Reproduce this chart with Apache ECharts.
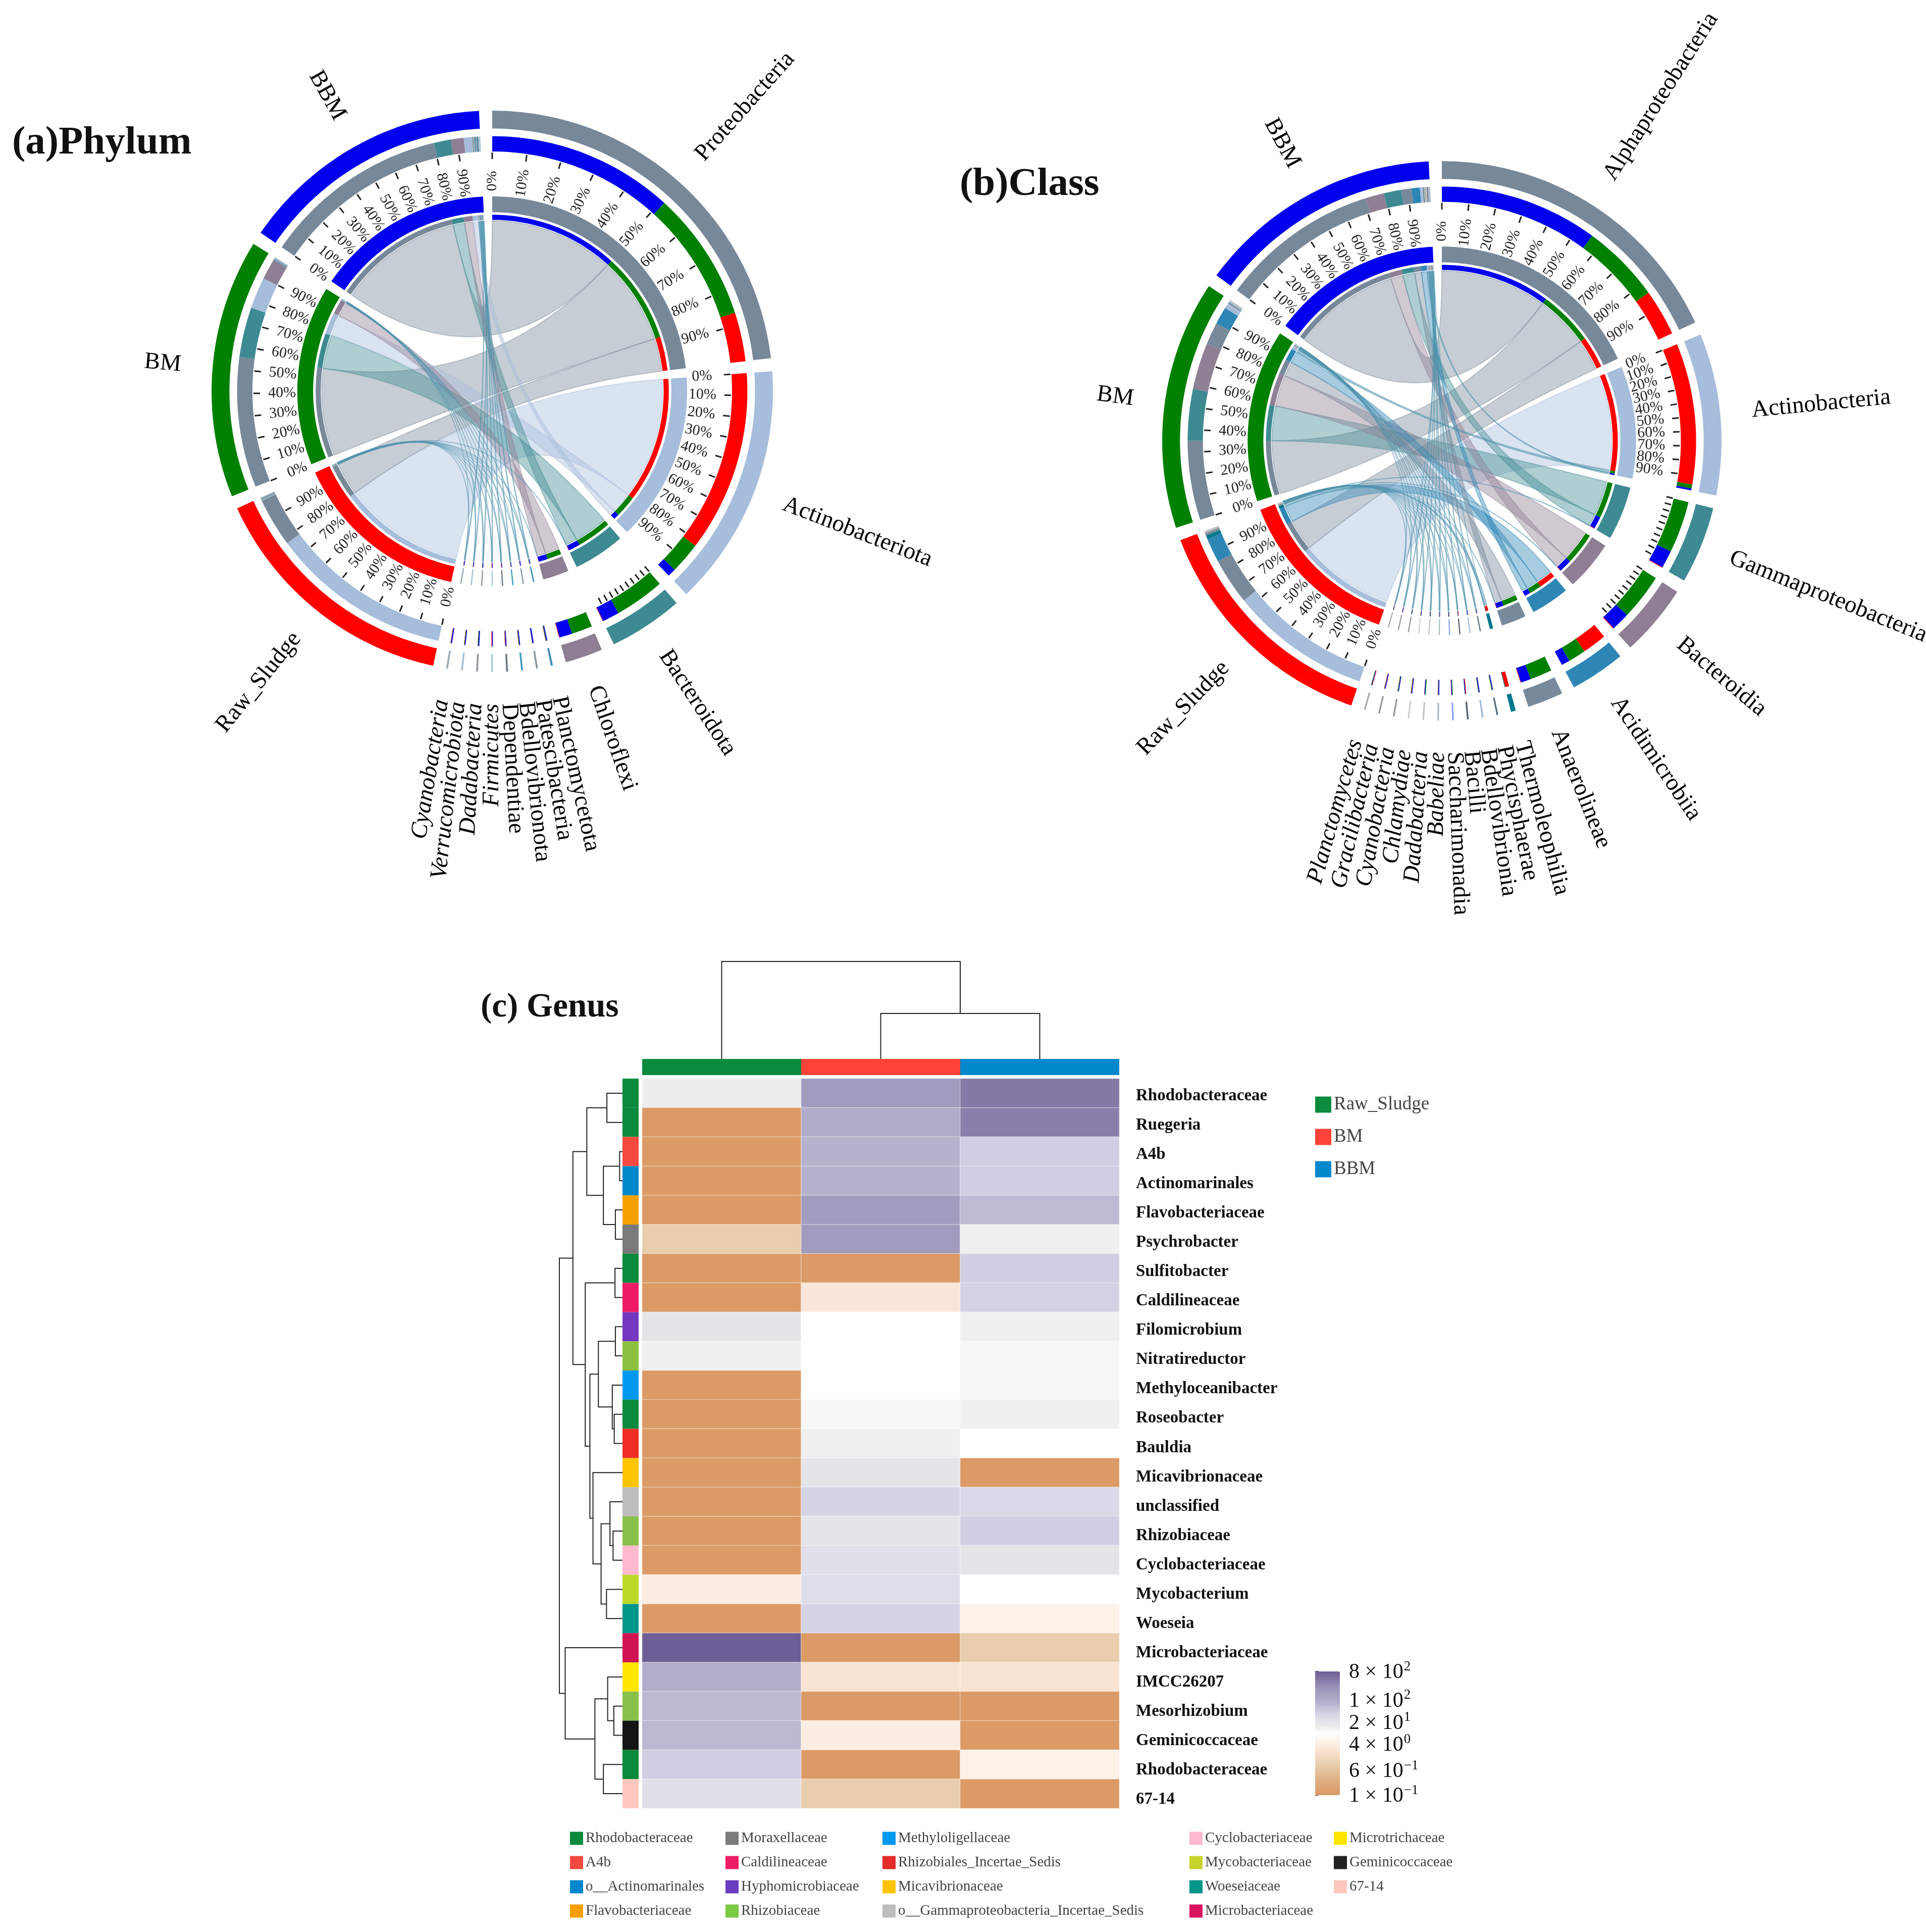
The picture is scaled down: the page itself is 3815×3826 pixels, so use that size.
<!DOCTYPE html>
<html><head><meta charset="utf-8">
<style>html,body{margin:0;padding:0;background:#fff}#c{width:3815px;height:3826px}</style>
<script src="https://cdn.jsdelivr.net/npm/echarts@6/dist/echarts.min.js"></script>
</head><body><div id="c"></div>
<script>
// ---------- panel (a) Phylum ----------
const phylumNames=['Proteobacteria','Actinobacteriota','Bacteroidota','Chloroflexi','Planctomycetota','Patescibacteria','Bdellovibrionota','Dependentiae','Firmicutes','Dadabacteria','Verrucomicrobiota','Cyanobacteria'];
const phylumRaw=[21,78,0.2,0.2,0.1,0.05,0.1,0.2,0.25,0.05,0.1,0.15];
const phylumBM=[56,13.5,21.5,9,0.25,0.1,0.2,0.1,0.05,0.25,0.2,0.05];
const phylumBBM=[80,3.5,7.3,5.5,0.45,0.55,0.4,0.4,0.4,0.45,0.4,0.5];
const phylumColors=['#778899','#A6BDDB','#3D8A92','#8E7F94','#3E8FB5','#8A98A0','#3E9AB8','#6B7680','#A8CDD8','#9A9AA5','#A6C0D5','#9BA8B0'];
// ---------- panel (b) Class ----------
const classNames=['Alphaproteobacteria','Actinobacteria','Gammaproteobacteria','Bacteroidia','Acidimicrobiia','Anaerolineae','Thermoleophilia','Phycisphaerae','Bdellovibrionia','Bacilli','Saccharimonadia','Babeliae','Dadabacteria','Chlamydiae','Cyanobacteria','Gracilibacteria','Planctomycetes'];
const classRaw=[21,64,0.3,0.3,11,0.2,1.7,0.05,0.05,0.3,0.1,0.1,0.05,0.15,0.1,0.2,0.25];
const classBM=[36,1.8,23.5,21,8,10,0.2,0.25,0.2,0.1,0.3,0.2,0.35,0.2,0.25,0.1,0.2];
const classBBM=[72,0.9,8,8.4,3.8,4.6,0.1,0.4,0.45,0.3,0.3,0.4,0.3,0.35,0.35,0.4,0.25];
const classColors=['#778899','#A6BDDB','#3D8A92','#8E7F94','#2E86B5','#78899B','#00788C','#5D6D7D','#A3BBD8','#555F68','#8EA0F0','#A9BFBF','#C5C5C5','#D0D0D0','#999999','#999999','#AAAAAA'];
const sampleNames=['Raw_Sludge','BM','BBM'];
const sampleChordColors=['#FF0000','#008000','#0000EE'];
const percentTicks=[0,10,20,30,40,50,60,70,80,90];
// ---------- panel (c) Genus ----------
const genusNames=['Rhodobacteraceae','Ruegeria','A4b','Actinomarinales','Flavobacteriaceae','Psychrobacter','Sulfitobacter','Caldilineaceae','Filomicrobium','Nitratireductor','Methyloceanibacter','Roseobacter','Bauldia','Micavibrionaceae','unclassified','Rhizobiaceae','Cyclobacteriaceae','Mycobacterium','Woeseia','Microbacteriaceae','IMCC26207','Mesorhizobium','Geminicoccaceae','Rhodobacteraceae ','67-14'];
const genusRaw=[14,0.1,0.1,0.1,0.1,0.9,0.1,0.1,18,13,0.1,0.1,0.1,0.1,0.1,0.1,0.1,4,0.1,800,90,70,70,42,24];
const genusBM=[180,100,80,80,170,180,0.1,3,9,9,9,11,13,18,36,18,24,26,36,0.1,2.5,0.1,4,0.1,0.9];
const genusBBM=[450,390,42,42,65,13,42,38,13,11,11,13,9,0.1,30,42,19,9,5,0.9,2.5,0.1,0.1,5,0.1];
const genusRowColors=['#0A8A3C','#0A8A3C','#F44A3E','#0088CC','#F7A000','#7A7A7A','#0A8A3C','#EE1C66','#7438C0','#8CC040','#0099F0','#0A8A3C','#EE2E24','#FFC400','#BDBDBD','#88C04A','#FFB9CE','#B9D82A','#009688','#D0144F','#FFE600','#88C04A','#141414','#0A8A3C','#FFC8BE'];
const heatColumns=['Raw_Sludge','BM','BBM'];
const heatColumnColors=['#0A8A3C','#FF4238','#0088CC'];
const heatStops=['#DB9A66','#DDA474','#E0B084','#E4BF98','#E8CFAF','#F2DAC3','#FBE6D8','#FDF2E9','#FFFFFF','#E8E8E8','#DDDCEA','#CCC9DF','#B4AFCB','#A5A0C0','#9A92B8','#8478A6','#6C5F96'];
const colorbarTicks=[0.1,0.6,4,20,100,800];
const colorbarMantissa=['1','6','4','2','1','8'];
const colorbarExponent=['−1','−1','0','1','2','2'];
// merges: [child a, child b, height]; child index >= 25 means merge (index-25)
const rowMerges=[[0,1,43],[2,3,10],[4,5,21],[26,27,52],[25,28,95],[6,7,22],[8,9,21],[11,12,24],[10,32,29],[31,33,65],[15,16,27],[14,35,35],[17,18,44],[36,37,58],[13,38,79],[34,39,87],[30,40,99],[29,41,131],[21,22,25],[20,43,41],[23,24,52],[44,45,74],[19,46,151],[42,47,166]];
const colMerges=[[1,2,90],[0,3,193]];
const legendCol1=['Rhodobacteraceae','A4b','o__Actinomarinales','Flavobacteriaceae'];
const legendCol2=['Moraxellaceae','Caldilineaceae','Hyphomicrobiaceae','Rhizobiaceae'];
const legendCol3=['Methyloligellaceae','Rhizobiales_Incertae_Sedis','Micavibrionaceae','o__Gammaproteobacteria_Incertae_Sedis'];
const legendCol4=['Cyclobacteriaceae','Mycobacteriaceae','Woeseiaceae','Microbacteriaceae'];
const legendCol5=['Microtrichaceae','Geminicoccaceae','67-14'];
const legendCol1Colors=['#0A8A3C','#F44A3E','#0088CC','#F7A000'];
const legendCol2Colors=['#7A7A7A','#EE1C66','#6A3CC0','#7AC943'];
const legendCol3Colors=['#0099F0','#E22A28','#FFC400','#BDBDBD'];
const legendCol4Colors=['#FFB9CE','#C5D42A','#009688','#D8145F'];
const legendCol5Colors=['#FFE600','#222222','#FFC8BE'];

// ---------- helpers ----------
const SERIF='Liberation Serif';
const GAP=2.7, R_OUT=[515,550], R_COMP=[470,500], R_IN=[351,382], R_THIN=[336,346], R_RIB=334;
function bandPts(api,a0,a1,r0,r1){
  const pts=[],n=Math.max(2,Math.ceil(Math.abs(a1-a0)));
  for(let i=0;i<=n;i++)pts.push(api.coord([r1,a0+(a1-a0)*i/n]));
  for(let i=n;i>=0;i--)pts.push(api.coord([r0,a0+(a1-a0)*i/n]));
  return pts;
}
function layout(names,raw,bm,bbm,colors){
  const cols=[raw,bm,bbm], nT=names.length;
  const tTot=names.map((_,i)=>raw[i]+bm[i]+bbm[i]);
  const sTot=cols.map(c=>c.reduce((a,b)=>a+b,0));
  const k=(360-GAP*(nT+3))/(tTot.reduce((a,b)=>a+b,0)+sTot.reduce((a,b)=>a+b,0));
  const palette=colors.concat(sampleChordColors);
  let a=0; const bands=[],ticks=[],tickLabels=[],nameLabels=[],ribbonMap={},ribbons=[],nameAngles=[];
  function addSector(name,color,total,parts,idKey){
    const w=total*k, a0=a;
    bands.push([a0,a0+w,R_OUT[0],R_OUT[1],color]);
    bands.push([a0,a0+w,R_IN[0],R_IN[1],color]);
    let p=a0;
    parts.slice().sort((x,y)=>y.v-x.v).forEach(s=>{
      const e=p+s.v*k;
      bands.push([p,e,R_COMP[0],R_COMP[1],s.color]);
      bands.push([p,e,R_THIN[0],R_THIN[1],s.color]);
      const key=idKey(s.id); (ribbonMap[key]=ribbonMap[key]||[]).push([p,e]);
      p=e;
    });
    if(w>=13)percentTicks.forEach(t=>ticks.push([a0+w*t/100]));
    if(w>=25)percentTicks.forEach((t,j)=>tickLabels.push([a0+w*t/100,j]));
    nameLabels.push(name);
    nameAngles.push(a0+w/2);
    a=a0+w+GAP;
  }
  names.forEach((nm,i)=>addSector(nm,i,tTot[i],[0,1,2].map(s=>({id:s,v:cols[s][i],color:nT+s})),s=>i+'_'+s));
  sampleNames.forEach((nm,s)=>addSector(nm,nT+s,sTot[s],names.map((_,i)=>({id:i,v:cols[s][i],color:i})),i=>i+'_'+s));
  Object.keys(ribbonMap).forEach(key=>{
    const [t]=key.split('_').map(Number), [A,B]=ribbonMap[key];
    ribbons.push([A[0],A[1],B[0],B[1],t]);
  });
  return {palette,bands,ticks,tickLabels,nameAngles,nameLabels,ribbons};
}
function panelSeries(names,raw,bm,bbm,colors,pi){
  const L=layout(names,raw,bm,bbm,colors), base={type:'custom',coordinateSystem:'polar',polarIndex:pi,silent:true,clip:false,animation:false};
  const enc={angle:0,radius:1};
  return [
   Object.assign({},base,{name:'ribbons'+pi,data:L.ribbons.slice().sort((x,y)=>(y[1]-y[0])-(x[1]-x[0])),encode:enc,renderItem(p,api){
     const a0=api.value(0),a1=api.value(1),b0=api.value(2),b1=api.value(3);
     const thin=(a1-a0)<1.3, col=L.palette[api.value(4)];
     const c=api.coord([0,0]),pts=[];
     const curve=(u,v)=>{const P=api.coord([R_RIB,u]),Q=api.coord([R_RIB,v]);
       for(let i=0;i<=48;i++){const t=i/48,m=1-t;pts.push([m*m*P[0]+2*m*t*c[0]+t*t*Q[0],m*m*P[1]+2*m*t*c[1]+t*t*Q[1]]);}};
     const arc=(u,v)=>{const n=Math.max(1,Math.ceil(Math.abs(v-u)));for(let i=0;i<=n;i++)pts.push(api.coord([R_RIB,u+(v-u)*i/n]));};
     arc(a0,a1);curve(a1,b0);arc(b0,b1);curve(b1,a0);
     return {type:'polygon',shape:{points:pts},style:thin?{fill:'#4F93AE',opacity:0.5,stroke:'#4F93AE',lineWidth:1.6}:{fill:col,opacity:0.42,stroke:col,lineWidth:2}};
   }}),
   Object.assign({},base,{name:'bands'+pi,data:L.bands,encode:{angle:0,radius:2},renderItem(p,api){
     return {type:'polygon',shape:{points:bandPts(api,api.value(0),api.value(1),api.value(2),api.value(3))},style:{fill:L.palette[api.value(4)]}};
   }}),
   Object.assign({},base,{name:'ticks'+pi,data:L.ticks.map(t=>[t[0]]),encode:{angle:0},renderItem(p,api){
     const A=api.coord([455,api.value(0)]),B=api.coord([468,api.value(0)]);
     return {type:'line',shape:{x1:A[0],y1:A[1],x2:B[0],y2:B[1]},style:{stroke:'#222',lineWidth:3}};
   }}),
   Object.assign({},base,{name:'tickLabels'+pi,data:L.tickLabels,encode:{angle:0},renderItem(p,api){
     const th=api.value(0),P=api.coord([412,th]),right=th<=180;
     return {type:'text',x:P[0],y:P[1],rotation:(right?90-th:270-th)*Math.PI/180,
       style:{text:percentTicks[api.value(1)]+'%',align:'center',verticalAlign:'middle',fontFamily:SERIF,fontSize:30,fill:'#222'}};
   }}),
   Object.assign({},base,{name:'sectorLabels'+pi,data:L.nameAngles.map((a,i)=>[a,i]),encode:{angle:0},renderItem(p,api){
     const th=api.value(0),P=api.coord([612,th]),right=th<=180,nm=L.nameLabels[api.value(1)];
     return {type:'text',x:P[0],y:P[1],rotation:(right?90-th:270-th)*Math.PI/180,
       style:{text:nm,align:right?'left':'right',verticalAlign:'middle',fontFamily:SERIF,fontSize:47,fill:'#000',
       fontStyle:(th>178&&th<200)?'italic':'normal'}};
   }})
  ];
}
function dendro(merges,n){
  const pos=[],h=[],segs=[];
  for(let i=0;i<n;i++){pos[i]=i;h[i]=0;}
  merges.forEach((m,i)=>{const id=n+i,[a,b,ht]=m;pos[id]=(pos[a]+pos[b])/2;h[id]=ht;segs.push([pos[a],h[a],pos[b],h[b],ht]);});
  return segs;
}
const hidden={show:false};
const noAxis={axisLine:hidden,axisTick:hidden,axisLabel:hidden,splitLine:hidden};
const heatData=[];
genusNames.forEach((g,i)=>{[genusRaw,genusBM,genusBBM].forEach((c,j)=>heatData.push([j,i,Math.log10(c[i])]));});
const GR={l:1272,t:2136,w:945,h:1445};
const allLegend=[[legendCol1,legendCol1Colors],[legendCol2,legendCol2Colors],[legendCol3,legendCol3Colors],[legendCol4,legendCol4Colors],[legendCol5,legendCol5Colors]];
const legendLeft=[1129,1437,1748,2356,2642];
const legends=allLegend.map((c,i)=>({orient:'vertical',left:legendLeft[i],top:3626,padding:0,itemGap:19,itemWidth:26,itemHeight:26,icon:'rect',selectedMode:false,
  data:c[0].map((n,j)=>({name:n,itemStyle:{color:c[1][j]}})),textStyle:{fontFamily:SERIF,fontSize:29,color:'#444'}}));
legends.push({orient:'vertical',left:2605,top:2169,padding:0,itemGap:27,itemWidth:32,itemHeight:32,icon:'rect',selectedMode:false,
  data:heatColumns.map((n,j)=>({name:n,itemStyle:{color:heatColumnColors[j]}})),textStyle:{fontFamily:SERIF,fontSize:37,color:'#444'}});
const pieData=[];
allLegend.forEach(c=>c[0].forEach((n,j)=>pieData.push({name:n,value:1,itemStyle:{color:c[1][j]}})));
heatColumns.forEach((n,j)=>pieData.push({name:n,value:1,itemStyle:{color:heatColumnColors[j]}}));

const lineStyleD={stroke:'#222',lineWidth:2,fill:'none'};
const series=[].concat(
 panelSeries(phylumNames,phylumRaw,phylumBM,phylumBBM,phylumColors,0),
 panelSeries(classNames,classRaw,classBM,classBBM,classColors,1),
 [
  {type:'heatmap',name:'heat',xAxisIndex:0,yAxisIndex:0,data:heatData,animation:false,silent:true,progressive:0,
   itemStyle:{borderColor:'rgba(255,255,255,0.4)',borderWidth:1.5}},
  {type:'bar',name:'columnBar',xAxisIndex:1,yAxisIndex:1,barWidth:'100%',animation:false,silent:true,
   data:heatColumns.map((_,i)=>({value:1,itemStyle:{color:heatColumnColors[i]}}))},
  {type:'bar',name:'rowBar',xAxisIndex:2,yAxisIndex:2,barWidth:'100%',animation:false,silent:true,
   data:genusNames.map((_,i)=>({value:1,itemStyle:{color:genusRowColors[i]}}))},
  {type:'custom',name:'rowDendro',coordinateSystem:'cartesian2d',xAxisIndex:3,yAxisIndex:3,clip:false,silent:true,animation:false,
   data:dendro(rowMerges,25),encode:{x:1,y:0},renderItem(p,api){
    const y1=api.value(0),h1=api.value(1),y2=api.value(2),h2=api.value(3),h=api.value(4);
    return {type:'polyline',shape:{points:[api.coord([h1,y1]),api.coord([h,y1]),api.coord([h,y2]),api.coord([h2,y2])]},style:lineStyleD};
   }},
  {type:'custom',name:'colDendro',coordinateSystem:'cartesian2d',xAxisIndex:4,yAxisIndex:4,clip:false,silent:true,animation:false,
   data:dendro(colMerges,3),encode:{x:0,y:1},renderItem(p,api){
    const x1=api.value(0),h1=api.value(1),x2=api.value(2),h2=api.value(3),h=api.value(4);
    return {type:'polyline',shape:{points:[api.coord([x1,h1]),api.coord([x1,h]),api.coord([x2,h]),api.coord([x2,h2])]},style:lineStyleD};
   }},
  {type:'pie',name:'legendKeys',radius:[0,0],center:[-50,-50],data:pieData,label:hidden,labelLine:hidden,silent:true,animation:false}
 ]);
const cbVals=colorbarTicks.map(v=>Math.log10(v));
const cbMin=cbVals[0], cbMax=cbVals[cbVals.length-1];
const option={
 backgroundColor:'#fff',animation:false,
 title:[
  {text:'(a)Phylum',left:24,top:244,textStyle:{fontFamily:SERIF,fontWeight:'bold',fontSize:79,color:'#111'},padding:0},
  {text:'(b)Class',left:1901,top:326,textStyle:{fontFamily:SERIF,fontWeight:'bold',fontSize:79,color:'#111'},padding:0},
  {text:'(c) Genus',left:952,top:1962,textStyle:{fontFamily:SERIF,fontWeight:'bold',fontSize:67,color:'#111'},padding:0}
 ],
 polar:[{center:[975,775],radius:566},{center:[2856,873],radius:564}],
 angleAxis:[0,1].map(i=>Object.assign({polarIndex:i,type:'value',min:0,max:360,startAngle:90,clockwise:true},noAxis)),
 radiusAxis:[0,1].map(i=>Object.assign({polarIndex:i,type:'value',min:0,max:560},noAxis)),
 grid:[
  {left:GR.l,top:GR.t,width:GR.w,height:GR.h},
  {left:GR.l,top:2097,width:GR.w,height:32},
  {left:1233,top:GR.t,width:32,height:GR.h},
  {left:1108,top:GR.t,width:127,height:GR.h},
  {left:GR.l,top:1904,width:GR.w,height:193},
  {left:2605,top:3310,width:49,height:245},
  {left:GR.l,top:2141,width:GR.w,height:1452}
 ],
 xAxis:[
  Object.assign({gridIndex:0,type:'category',data:heatColumns},noAxis),
  Object.assign({gridIndex:1,type:'category',data:heatColumns},noAxis),
  Object.assign({gridIndex:2,type:'value',min:0,max:1},noAxis),
  Object.assign({gridIndex:3,type:'value',min:0,max:166,inverse:true},noAxis),
  Object.assign({gridIndex:4,type:'value',min:-0.5,max:2.5},noAxis),
  Object.assign({gridIndex:5,type:'value',min:0,max:1},noAxis),
  Object.assign({gridIndex:6,type:'value',min:0,max:1},noAxis)
 ],
 yAxis:[
  Object.assign({gridIndex:0,type:'category',data:genusNames,inverse:true},noAxis),
  Object.assign({gridIndex:1,type:'value',min:0,max:1},noAxis),
  Object.assign({gridIndex:2,type:'category',data:genusNames,inverse:true},noAxis),
  Object.assign({gridIndex:3,type:'value',min:-0.5,max:24.5,inverse:true},noAxis),
  Object.assign({gridIndex:4,type:'value',min:0,max:193},noAxis),
  {gridIndex:5,type:'value',min:cbMin,max:cbMax,position:'right',axisLine:hidden,splitLine:hidden,
   axisTick:{show:true,length:7,customValues:cbVals,lineStyle:{color:'#555',width:2}},
   axisLabel:{show:true,margin:18,customValues:cbVals,
    formatter:v=>{let b=0;cbVals.forEach((c,i)=>{if(Math.abs(c-v)<Math.abs(cbVals[b]-v))b=i;});
      return '{m|'+colorbarMantissa[b]+' × 10}{e|'+colorbarExponent[b]+'}';},
    rich:{m:{fontFamily:SERIF,fontSize:42,color:'#111',lineHeight:46,verticalAlign:'bottom'},
          e:{fontFamily:SERIF,fontSize:27,color:'#111',lineHeight:46,verticalAlign:'top',padding:[0,0,14,1]}}}},
  {gridIndex:6,type:'category',data:genusNames,inverse:true,position:'right',axisLine:hidden,axisTick:hidden,splitLine:hidden,
   axisLabel:{margin:33,fontFamily:SERIF,fontWeight:'bold',fontSize:33,color:'#111',interval:0,formatter:v=>v.trim()}}
 ],
 visualMap:[{type:'continuous',min:cbMin,max:cbMax,dimension:2,seriesIndex:10,left:2605,top:3310,padding:0,itemWidth:49,itemHeight:245,
   calculable:false,hoverLink:false,text:null,inRange:{color:heatStops},textStyle:{fontSize:1}}],
 legend:legends,
 series
};
const chart=echarts.init(document.getElementById('c'));
chart.setOption(option);
</script></body></html>
